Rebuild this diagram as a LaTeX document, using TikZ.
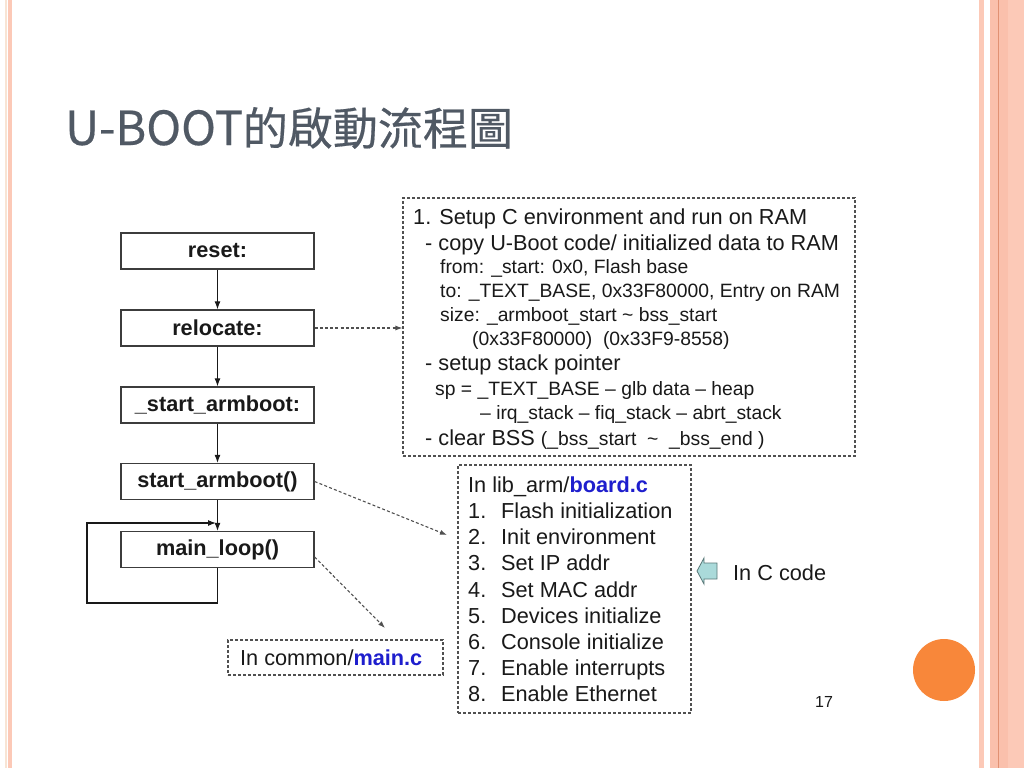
\documentclass[tikz,border=0pt]{standalone}
\usepackage{fontspec}
\setmainfont{Liberation Sans}
\newfontfamily\cjk[FakeBold=0.4]{Noto Sans CJK TC}
\usetikzlibrary{arrows.meta}
\definecolor{titlegray}{RGB}{80,89,100}
\definecolor{ink}{RGB}{25,25,25}
\definecolor{boxline}{RGB}{60,60,60}
\definecolor{dashline}{RGB}{80,80,80}
\definecolor{linkblue}{RGB}{30,30,205}
\definecolor{stripepink}{RGB}{252,201,183}
\definecolor{stripepinkb}{RGB}{250,192,172}
\definecolor{stripecream}{RGB}{248,228,212}
\definecolor{stripedark}{RGB}{225,145,115}
\definecolor{dotorange}{RGB}{248,135,58}
\definecolor{arrowfill}{RGB}{170,218,218}
\definecolor{arrowedge}{RGB}{90,120,120}
\newcommand\bigf{\fontsize{21.7}{26}\selectfont}
\newcommand\smallf{\fontsize{19.3}{23}\selectfont}
\begin{document}
\begin{tikzpicture}[x=1pt,y=-1pt,
  flowbox/.style={draw=boxline,line width=1.3pt,minimum width=193pt,minimum height=36pt,inner sep=0pt,font=\bigf\bfseries,text=ink},
  flowarr/.style={draw=ink,line width=1.2pt,-{Latex[length=8pt,width=6pt]}},
  notebox/.style={draw=dashline,line width=1.1pt,dash pattern=on 3pt off 2pt,inner sep=0pt},
  notearr/.style={draw=dashline,line width=1.1pt,dash pattern=on 3pt off 2.2pt,-{Latex[length=7pt,width=5pt]}},
  txt/.style={anchor=base west,inner sep=0pt,text=ink},
]
\useasboundingbox (0,0) rectangle (1024,768);
\fill[white] (0,0) rectangle (1024,768);
% page decoration
\fill[stripecream] (5,0) rectangle (6.7,768);
\fill[stripepink] (8,0) rectangle (12,768);
\fill[stripepink] (979,0) rectangle (983.5,768);
\fill[stripepinkb] (990,0) rectangle (1008,768);
\fill[stripepink] (1008,0) rectangle (1024,768);
\draw[stripedark,line width=0.8pt] (998.3,0) -- (998.3,768);
\fill[dotorange] (944,670) circle (31);

% title
\node[anchor=base west,inner sep=0pt,text=titlegray] (title) at (65,145)
  {\cjk\fontsize{47}{50}\selectfont U-BOOT\fontsize{45}{50}\selectfont 的啟動流程圖};

% flow boxes
\node[flowbox] (reset) at (217.5,251) {reset:};
\node[flowbox] (relocate) at (217.5,328) {relocate:};
\node[flowbox] (sarm) at (217.5,405) {\_start\_armboot:};
\node[flowbox] (starm) at (217.5,481.5) {start\_armboot()};
\node[flowbox] (mainloop) at (217.5,549.5) {main\_loop()};

\draw[flowarr] (reset) -- (relocate);
\draw[flowarr] (relocate) -- (sarm);
\draw[flowarr] (sarm) -- (starm);
\draw[flowarr] (starm) -- (mainloop);
\coordinate (lb) at (87,603);
\coordinate (le) at (216,523);
\draw[flowarr] (mainloop.south) |- (lb) |- (le);

% note boxes
\node[notebox,minimum width=452pt,minimum height=258pt] (setup) at (629,327) {};
\node[notebox,minimum width=233pt,minimum height=248pt] (board) at (574.5,589) {};
\node[notebox,minimum width=215pt,minimum height=35pt] (common) at (335.5,657.5) {};

\node[txt,font=\bigf] (s1) at (413,224) {1. Setup C environment and run on RAM};
\node[txt,font=\bigf] (s2) at (425,250) {- copy U-Boot code/ initialized data to RAM};
\node[txt,font=\smallf] (s3) at (440,273) {from: \_start: 0x0, Flash base};
\node[txt,font=\smallf] (s4) at (440,297) {to: \_TEXT\_BASE, 0x33F80000, Entry on RAM};
\node[txt,font=\smallf] (s5) at (440,321) {size: \_armboot\_start \textasciitilde\ bss\_start};
\node[txt,font=\smallf] (s6) at (472,345) {(0x33F80000)\ \ (0x33F9-8558)};
\node[txt,font=\bigf] (s7) at (425,370) {- setup stack pointer};
\node[txt,font=\smallf] (s8) at (435,395) {sp = \_TEXT\_BASE – glb data – heap};
\node[txt,font=\smallf] (s9) at (480,419) {– irq\_stack – fiq\_stack – abrt\_stack};
\node[txt] (s10) at (425,445) {{\bigf - clear BSS\ }{\smallf (\_bss\_start\ \ \textasciitilde\ \ \_bss\_end )}};

\node[txt,font=\bigf] (b0) at (468,492.6) {In lib\_arm/\textcolor{linkblue}{\bfseries board.c}};
\node[txt,font=\bigf] (b1) at (468,518.7) {\makebox[33pt][l]{1.}Flash initialization};
\node[txt,font=\bigf] (b2) at (468,544.8) {\makebox[33pt][l]{2.}Init environment};
\node[txt,font=\bigf] (b3) at (468,570.9) {\makebox[33pt][l]{3.}Set IP addr};
\node[txt,font=\bigf] (b4) at (468,597.0) {\makebox[33pt][l]{4.}Set MAC addr};
\node[txt,font=\bigf] (b5) at (468,623.1) {\makebox[33pt][l]{5.}Devices initialize};
\node[txt,font=\bigf] (b6) at (468,649.2) {\makebox[33pt][l]{6.}Console initialize};
\node[txt,font=\bigf] (b7) at (468,675.3) {\makebox[33pt][l]{7.}Enable interrupts};
\node[txt,font=\bigf] (b8) at (468,701.4) {\makebox[33pt][l]{8.}Enable Ethernet};

\node[txt,font=\bigf] (c0) at (240,665) {In common/\textcolor{linkblue}{\bfseries main.c}};

% dashed connectors
\draw[notearr] (relocate.east) -- (relocate.east -| setup.west);
\coordinate (n2) at (447,535);
\draw[notearr] (starm.east) -- (n2);
\coordinate (n3) at (385,628);
\draw[notearr] ([yshift=-7.5pt]mainloop.east) -- (n3);

% block arrow and label
\draw[fill=arrowfill,draw=arrowedge,line width=0.8pt,line join=miter]
  (697,571) -- (704,558) -- (704,563) -- (717,563) -- (717,579) -- (704,579) -- (704,584) -- cycle;
\node[txt,font=\bigf] (ccode) at (733,580) {In C code};

\node[txt,font=\fontsize{16}{18}\selectfont] (pg) at (815,707) {17};
\end{tikzpicture}
\end{document}
